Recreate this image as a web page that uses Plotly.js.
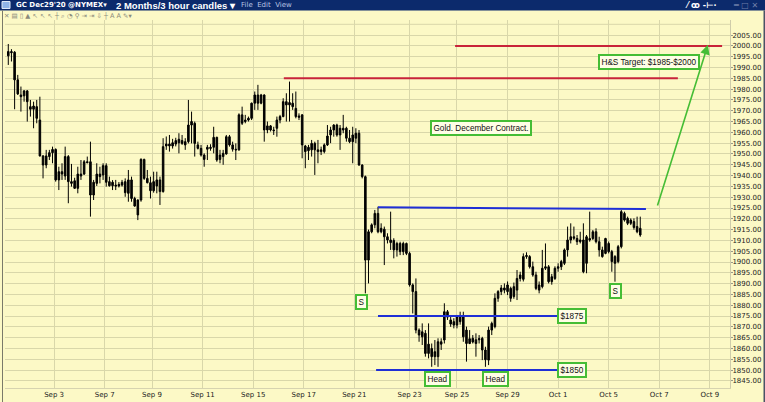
<!DOCTYPE html>
<html>
<head>
<meta charset="utf-8">
<script src="https://cdn.plot.ly/plotly-3.0.1.min.js"></script>
<style>
  html, body { margin: 0; padding: 0; background: #fcf9c6; }
  #chart { width: 765px; height: 402px; }
</style>
</head>
<body>
<div id="chart"></div>
<script>
// GC Dec 2020 (COMEX gold), 3-hour candles, Sep 1 – Oct 6 2020
const open = [
  1995.4,1997.4,1997.1,1984.3,1977.3,1976.9,1979.2,1971.9,1970.7,1971.9,
  1965.7,1949.1,1944.9,1948.8,1950.6,1952.1,1938.0,1941.8,1939.8,1948.8,
  1937.2,1937.6,1934.1,1940.7,1940.7,1946.4,1946.4,1931.0,1936.4,1940.7,
  1940.3,1944.6,1937.2,1935.3,1935.6,1935.2,1935.6,1937.2,1931.8,1938.0,
  1929.4,1921.8,1928.7,1947.5,1938.7,1936.7,1933.0,1935.2,1938.0,1932.6,
  1953.7,1954.6,1953.7,1954.6,1955.2,1956.2,1955.7,1955.7,1963.4,1964.2,
  1954.2,1952.6,1949.5,1952.2,1953.1,1953.1,1957.7,1947.5,1948.8,1950.0,
  1958.0,1954.2,1952.2,1951.9,1968.1,1965.0,1965.7,1966.5,1973.5,1977.3,
  1973.5,1977.3,1961.1,1963.0,1961.1,1961.9,1965.7,1967.3,1974.2,1972.7,
  1973.5,1971.1,1967.6,1968.1,1953.7,1951.5,1951.9,1954.9,1951.9,1951.1,
  1951.1,1954.2,1958.8,1961.1,1963.4,1958.8,1961.9,1961.9,1957.3,1955.7,
  1957.3,1959.6,1944.9,1939.5,1900.9,1914.0,1917.2,1922.5,1914.0,1915.2,
  1911.7,1910.2,1910.0,1905.6,1908.6,1904.8,1908.6,1904.0,1889.4,1886.3,
  1868.5,1865.4,1867.0,1857.7,1860.0,1856.2,1856.2,1863.1,1863.9,1877.0,
  1873.2,1872.4,1870.8,1874.7,1874.7,1868.5,1862.3,1864.7,1864.0,1864.0,
  1864.7,1859.3,1854.6,1868.5,1870.1,1883.2,1886.3,1888.0,1886.3,1887.8,
  1884.0,1887.0,1892.4,1892.0,1902.5,1902.5,1897.8,1894.0,1887.0,1888.6,
  1897.1,1897.8,1890.9,1892.4,1897.1,1897.8,1899.4,1905.6,1910.2,1911.7,
  1910.9,1909.4,1910.2,1899.4,1910.9,1910.9,1914.0,1909.4,1905.6,1904.0,
  1908.6,1904.8,1902.5,1900.2,1907.1,1922.5,1920.2,1917.9,1918.7,1916.4,
  1915.6
];
const high = [
  2000.9,1998.5,1997.6,1986.6,1981.2,1979.6,1979.6,1975.0,1974.2,1975.0,
  1976.5,1949.5,1951.9,1951.9,1953.4,1952.6,1944.1,1945.7,1953.4,1949.5,
  1945.4,1939.0,1944.1,1947.2,1947.2,1948.8,1955.7,1938.0,1945.7,1944.1,
  1945.7,1945.7,1939.5,1937.9,1938.0,1937.0,1938.0,1938.7,1942.6,1939.5,
  1930.2,1929.0,1948.0,1947.8,1942.6,1939.5,1941.8,1941.8,1939.5,1957.3,
  1958.1,1958.8,1957.0,1957.5,1959.6,1958.8,1957.3,1975.0,1969.6,1965.0,
  1955.7,1954.2,1950.3,1954.2,1954.5,1962.6,1958.0,1951.9,1951.9,1958.8,
  1958.8,1955.7,1954.9,1968.8,1971.9,1968.1,1967.3,1973.8,1978.9,1982.0,
  1977.8,1977.6,1965.0,1963.4,1962.6,1967.3,1968.1,1975.8,1978.1,1983.5,
  1978.1,1978.9,1968.8,1968.4,1954.2,1954.2,1956.5,1955.7,1956.5,1953.4,
  1954.9,1963.4,1962.6,1963.8,1964.0,1963.4,1968.1,1962.6,1961.1,1962.6,
  1961.9,1961.1,1945.2,1940.0,1915.0,1917.9,1924.1,1925.6,1917.9,1916.4,
  1913.3,1923.3,1911.0,1909.4,1909.4,1909.4,1909.0,1904.8,1890.1,1892.4,
  1869.3,1871.6,1868.5,1871.6,1862.3,1863.9,1864.7,1864.7,1880.9,1877.8,
  1874.7,1874.0,1875.5,1877.0,1877.0,1870.1,1868.5,1866.2,1867.0,1866.2,
  1865.4,1860.8,1870.1,1872.4,1885.5,1887.0,1889.4,1890.1,1891.0,1888.6,
  1890.5,1896.3,1895.5,1904.0,1904.5,1903.2,1900.2,1895.5,1891.0,1905.6,
  1908.6,1898.6,1894.5,1898.0,1899.4,1901.0,1906.3,1916.4,1917.9,1916.4,
  1912.5,1914.0,1917.9,1912.5,1923.3,1914.8,1915.6,1911.7,1907.1,1911.2,
  1909.5,1905.6,1903.2,1907.9,1924.1,1923.3,1921.0,1920.2,1920.2,1921.0,
  1921.0
];
const low = [
  1991.2,1992.8,1970.7,1977.3,1969.6,1974.2,1965.0,1967.3,1961.9,1964.2,
  1948.8,1938.7,1943.4,1947.2,1945.7,1937.2,1933.3,1938.0,1938.0,1927.2,
  1934.9,1933.8,1931.8,1938.0,1940.3,1945.7,1921.0,1928.7,1935.2,1936.4,
  1938.0,1934.9,1934.9,1933.3,1933.3,1934.5,1934.9,1930.2,1927.9,1927.9,
  1925.6,1919.4,1927.9,1938.0,1936.4,1929.4,1932.1,1931.8,1926.4,1932.1,
  1951.9,1951.1,1952.5,1953.5,1950.3,1954.2,1951.9,1954.9,1954.9,1948.8,
  1952.1,1948.8,1944.1,1947.2,1951.5,1950.3,1946.4,1945.7,1945.0,1949.7,
  1953.4,1951.1,1947.2,1951.5,1963.4,1964.2,1965.0,1965.7,1970.4,1970.4,
  1973.0,1955.7,1959.6,1960.4,1958.8,1958.0,1964.2,1967.0,1965.0,1965.0,
  1970.4,1966.5,1965.7,1948.0,1943.4,1947.2,1948.8,1940.3,1945.7,1949.5,
  1950.3,1953.7,1955.0,1958.0,1958.0,1951.9,1959.6,1955.7,1955.0,1945.7,
  1955.0,1944.5,1938.7,1885.5,1890.1,1913.3,1915.6,1913.3,1913.3,1898.6,
  1908.6,1905.6,1901.7,1902.5,1903.2,1903.2,1903.2,1888.6,1876.2,1867.0,
  1863.1,1861.6,1856.2,1855.4,1851.5,1852.3,1851.5,1859.3,1862.3,1873.2,
  1870.0,1869.3,1869.3,1871.0,1863.1,1853.9,1862.0,1862.3,1856.2,1862.3,
  1854.6,1851.5,1852.3,1866.2,1869.3,1881.6,1884.7,1885.5,1884.7,1881.6,
  1883.0,1882.4,1891.0,1891.0,1901.5,1897.0,1893.2,1887.0,1885.5,1887.8,
  1896.3,1890.1,1889.5,1891.7,1895.5,1896.3,1898.6,1902.5,1908.6,1910.2,
  1907.9,1908.6,1894.8,1894.8,1909.4,1910.2,1908.6,1902.5,1902.0,1903.6,
  1904.0,1895.5,1890.9,1899.4,1906.3,1918.7,1917.1,1917.1,1915.0,1913.3,
  1911.7
];
const close = [
  1997.4,1996.9,1984.3,1977.8,1976.5,1979.2,1974.2,1970.7,1972.2,1966.5,
  1949.1,1944.9,1949.1,1950.6,1952.1,1938.0,1941.8,1940.7,1948.8,1937.2,
  1936.4,1934.1,1940.7,1939.8,1946.4,1946.0,1931.0,1936.9,1940.7,1939.5,
  1944.6,1936.9,1935.3,1936.9,1935.2,1935.9,1936.9,1932.1,1938.0,1929.4,
  1925.9,1928.7,1947.5,1938.7,1936.7,1933.0,1937.2,1938.0,1932.6,1953.4,
  1954.6,1953.7,1955.2,1956.2,1956.8,1954.9,1954.2,1963.4,1965.0,1954.9,
  1952.6,1949.5,1947.5,1953.1,1952.6,1957.7,1947.2,1949.5,1950.3,1958.0,
  1954.2,1952.2,1951.9,1968.1,1964.2,1965.7,1966.5,1973.5,1977.3,1973.5,
  1977.3,1961.1,1963.0,1961.1,1960.8,1965.7,1967.3,1974.2,1972.7,1973.8,
  1971.9,1967.3,1967.0,1954.2,1951.1,1953.1,1954.9,1951.9,1951.1,1951.9,
  1954.2,1958.3,1961.1,1963.4,1958.8,1961.9,1961.1,1957.3,1955.7,1958.8,
  1959.6,1944.9,1939.5,1900.9,1914.0,1917.2,1922.5,1914.0,1915.6,1911.7,
  1910.2,1909.0,1905.6,1908.6,1904.8,1908.6,1904.0,1889.4,1886.3,1868.5,
  1866.2,1867.7,1857.7,1862.0,1856.2,1858.5,1863.1,1862.0,1877.0,1874.5,
  1871.3,1870.8,1874.7,1872.4,1865.4,1862.3,1864.5,1863.0,1862.3,1864.5,
  1859.3,1854.8,1868.5,1871.6,1883.2,1886.3,1888.0,1887.0,1889.4,1883.2,
  1888.6,1892.4,1894.0,1902.5,1903.0,1897.8,1894.0,1887.8,1889.4,1897.1,
  1897.8,1890.9,1893.2,1897.1,1897.8,1900.2,1905.6,1910.2,1911.7,1911.0,
  1909.4,1910.2,1895.5,1911.7,1910.2,1914.0,1909.4,1905.6,1902.5,1910.9,
  1904.8,1900.2,1899.4,1907.1,1923.3,1919.4,1917.9,1919.4,1916.0,1914.0,
  1912.5
];

// Session labels on the time axis and the candle index where each session opens
const sessionLabels = ['Sep 3','Sep 7','Sep 9','Sep 11','Sep 15','Sep 17','Sep 21',
                       'Sep 23','Sep 25','Sep 29','Oct 1','Oct 5','Oct 7','Oct 9'];
const sessionStart  = [14.5, 30.5, 45.5, 61.5, 77.5, 93.5, 109.5,
                       127, 142, 158, 174, 190, 206, 222];

// Price levels drawn on the chart
const targetLevels  = [1985, 2000];          // H&S projection
const supportLevels = [1875, 1850];          // shoulder / head lows
const necklineLevels = [1925.3, 1924.5];     // neckline start / end
const patternLabels = ['S', 'Head', 'Head', 'S'];

const idx = open.map((_, i) => i);

// page geometry helpers (pixel -> paper fraction)
const W = 765, H = 402, M = { l: 5, r: 35, t: 20, b: 14 };
const PW = W - M.l - M.r, PH = H - M.t - M.b;
const px = x => (x - M.l) / PW;
const py = y => (H - M.b - y) / PH;

const BG = '#fcf9c6';
const GRID = '#d9d7aa';
const RED = '#c8233a';
const BLUE = '#1f2fd6';
const GREEN = '#45bd35';
const BOXBG = '#fffee6';

const candles = {
  type: 'candlestick',
  x: idx, open: open, high: high, low: low, close: close,
  increasing: { line: { color: '#000', width: 1 }, fillcolor: '#000' },
  decreasing: { line: { color: '#000', width: 1 }, fillcolor: '#000' },
  whiskerwidth: 0,
  hoverinfo: 'skip'
};

const yTicks = [];
for (let v = 1845; v <= 2005; v += 5) yTicks.push(v);

const shapes = [
  // 2010 grid line (no label under the toolbar)
  { type: 'line', xref: 'paper', x0: 0, x1: 1, yref: 'y', y0: 2010, y1: 2010,
    line: { color: GRID, width: 1 }, layer: 'below' },
  // H&S target levels
  { type: 'line', xref: 'x', yref: 'y', x0: 141.4, x1: 225.9, y0: targetLevels[1], y1: targetLevels[1],
    line: { color: RED, width: 2 } },
  { type: 'line', xref: 'x', yref: 'y', x0: 87.2, x1: 211.9, y0: targetLevels[0], y1: targetLevels[0],
    line: { color: RED, width: 2 } },
  // neckline
  { type: 'line', xref: 'x', yref: 'y', x0: 117.0, x1: 201.8, y0: necklineLevels[0], y1: necklineLevels[1],
    line: { color: BLUE, width: 2 } },
  // support lines
  { type: 'line', xref: 'x', yref: 'y', x0: 117.0, x1: 174.6, y0: supportLevels[0], y1: supportLevels[0],
    line: { color: BLUE, width: 2 } },
  { type: 'line', xref: 'x', yref: 'y', x0: 116.4, x1: 174.9, y0: supportLevels[1], y1: supportLevels[1],
    line: { color: BLUE, width: 2 } },
  // window chrome: title bar, borders
  { type: 'rect', xref: 'paper', yref: 'paper', x0: px(0), x1: px(765), y0: py(10.5), y1: py(0),
    fillcolor: '#0c2a6c', line: { width: 0 }, layer: 'above' },
  { type: 'rect', xref: 'paper', yref: 'paper', x0: px(2), x1: px(10), y0: py(8.5), y1: py(1.5),
    fillcolor: '#8fb4e8', line: { color: '#dfe9f7', width: 1 }, layer: 'above' },
  { type: 'rect', xref: 'paper', yref: 'paper', x0: px(763.5), x1: px(765), y0: py(402), y1: py(10.5),
    fillcolor: '#4a5266', line: { width: 0 }, layer: 'above' },
  { type: 'line', xref: 'paper', yref: 'paper', x0: px(2.5), x1: px(2.5), y0: py(402), y1: py(10.5),
    line: { color: '#7a7a6a', width: 1 }, layer: 'above' }
];

const boxFont = { family: '"Liberation Sans", Arial, sans-serif', size: 8.2, color: '#111' };
const box = (x, y, text) => ({
  x: x, y: y, xref: 'x', yref: 'y', text: text, showarrow: false,
  font: boxFont, bgcolor: BOXBG, bordercolor: GREEN, borderwidth: 2, borderpad: 1.5,
  xanchor: 'center', yanchor: 'middle'
});

const hdr = (x, text, font) => ({
  xref: 'paper', yref: 'paper', x: px(x), y: py(5.2), text: text, showarrow: false,
  xanchor: 'left', yanchor: 'middle', font: font
});

const annotations = [
  box(202.8, 1992.6, 'H&S Target: $' + targetLevels[0] + '-$' + targetLevels[1]),
  box(149.6, 1962.0, 'Gold. December Contract.'),
  box(111.9, 1881.5, patternLabels[0]),
  box(135.7, 1845.8, patternLabels[1]),
  box(154.3, 1845.8, patternLabels[2]),
  box(192.3, 1886.6, patternLabels[3]),
  box(178.4, supportLevels[0], '$' + supportLevels[0]),
  box(178.4, supportLevels[1], '$' + supportLevels[1]),
  // projection arrow from the neckline break to the target
  { x: 221.4, y: 2000.5, xref: 'x', yref: 'y', ax: 205.3, ay: 1925.5, axref: 'x', ayref: 'y',
    text: '', showarrow: true, arrowhead: 2, arrowsize: 1.2, arrowwidth: 1.6, arrowcolor: GREEN },
  // title bar
  hdr(14, "GC Dec29'20 @NYMEX▾",
      { family: '"DejaVu Sans", Verdana, sans-serif', size: 7, color: '#ffffff', weight: 'bold' }),
  hdr(114, '2 Months/3 hour candles ▾',
      { family: '"Liberation Sans", Arial, sans-serif', size: 9.5, color: '#ffffff', weight: 'bold' }),
  hdr(239, 'File  Edit  View',
      { family: '"DejaVu Sans", Verdana, sans-serif', size: 7, color: '#b9c4e2' }),
  hdr(683, '⁄ ꝏ -⊢·',
      { family: '"DejaVu Sans", sans-serif', size: 8, color: '#ffffff', weight: 'bold' }),
  hdr(731, '═ □ ✕',
      { family: '"DejaVu Sans", sans-serif', size: 8, color: '#6f7fa8' }),
  // toolbar row
  { xref: 'paper', yref: 'paper', x: px(2), y: py(15.3), showarrow: false, xanchor: 'left', yanchor: 'middle',
    text: '✕ ▤ ▯ ▲ ↖ ↖ ↖ ┼ ⌕ ◔ ⚲ ⇥ ⇥ ⇩ ┼ A A ✎▾',
    font: { family: '"DejaVu Sans", sans-serif', size: 6.5, color: '#8a8a7a' } }
];

const layout = {
  width: W, height: H,
  margin: { l: M.l, r: M.r, t: M.t, b: M.b, pad: 0 },
  paper_bgcolor: BG, plot_bgcolor: BG,
  showlegend: false,
  xaxis: {
    type: 'linear', range: [-1.04, 228.4],
    tickmode: 'array', tickvals: sessionStart, ticktext: sessionLabels,
    showgrid: true, gridcolor: GRID, gridwidth: 1, zeroline: false,
    ticks: '', showline: true, linecolor: '#d6d3b0', linewidth: 1,
    tickfont: { family: '"DejaVu Sans", Verdana, sans-serif', size: 7, color: '#222' },
    rangeslider: { visible: false }, fixedrange: true
  },
  yaxis: {
    side: 'right', range: [1841.7, 2012.0],
    tickmode: 'array', tickvals: yTicks, tickformat: '.2f',
    showgrid: true, gridcolor: GRID, gridwidth: 1, zeroline: false,
    ticks: 'outside', ticklen: 2, tickcolor: '#9a9a8a', showline: true, linecolor: '#cfccaa',
    ticklabelstandoff: -2,
    tickfont: { family: '"DejaVu Sans", Verdana, sans-serif', size: 7, color: '#222' },
    fixedrange: true
  },
  shapes: shapes,
  annotations: annotations
};

Plotly.newPlot('chart', [candles], layout, { displayModeBar: false, staticPlot: true });
</script>
</body>
</html>
